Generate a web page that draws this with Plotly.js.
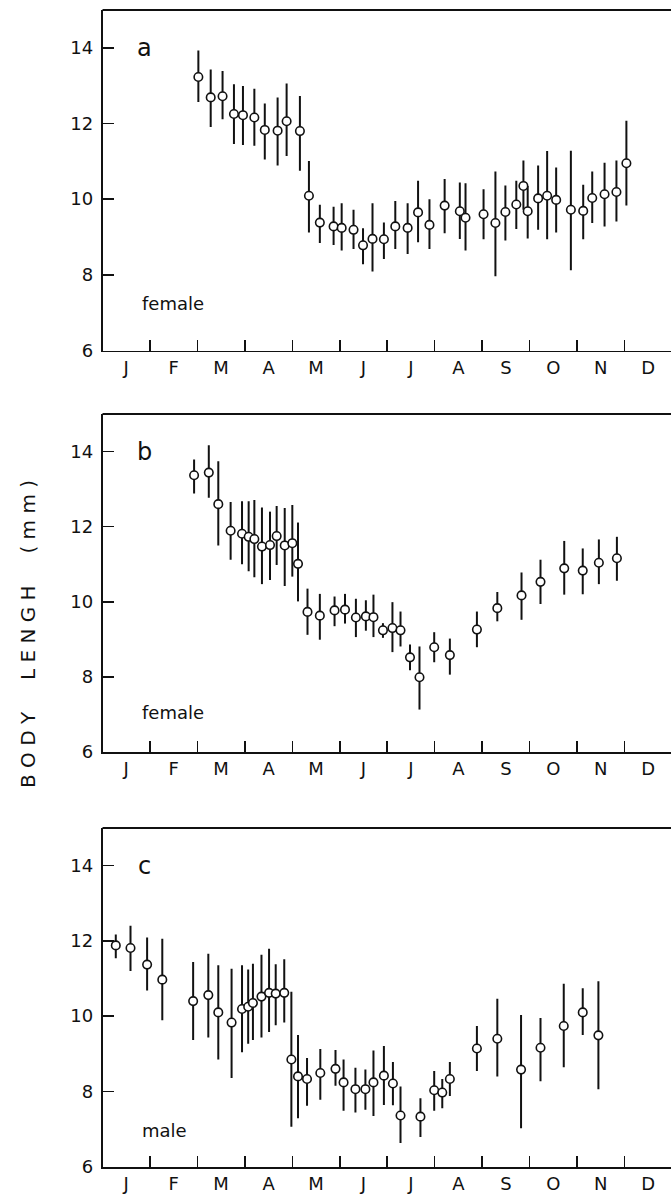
<!DOCTYPE html>
<html>
<head>
<meta charset="utf-8">
<script src="https://cdn.plot.ly/plotly-3.0.1.min.js"></script>
<style>html,body{margin:0;padding:0;background:#fff;}#chart{width:671px;height:1199px;}</style>
</head>
<body>
<div id="chart"></div>
<script>
// Month labels (x axis: months since 1 January)
const months = ['J','F','M','A','M','J','J','A','S','O','N','D'];
const monthCentres = [0.5,1.5,2.5,3.5,4.5,5.5,6.5,7.5,8.5,9.5,10.5,11.5];
const monthStarts = [1,2,3,4,5,6,7,8,9,10,11];
const yTicks = [6,8,10,12,14];

// Panel a: female
const monthA = [2.02,2.28,2.53,2.77,2.96,3.20,3.42,3.69,3.88,4.16,4.35,4.58,4.87,5.04,5.29,5.49,5.69,5.93,6.17,6.43,6.65,6.89,7.21,7.53,7.65,8.03,8.28,8.49,8.72,8.87,8.96,9.18,9.37,9.56,9.87,10.13,10.32,10.58,10.83,11.04];
const lenA = [13.23,12.69,12.72,12.25,12.22,12.16,11.83,11.81,12.06,11.80,10.09,9.38,9.28,9.24,9.19,8.78,8.95,8.94,9.28,9.24,9.65,9.32,9.83,9.68,9.51,9.60,9.37,9.66,9.86,10.35,9.68,10.02,10.09,9.98,9.72,9.69,10.03,10.13,10.19,10.95];
const hiA = [13.93,13.43,13.39,13.04,12.99,12.92,12.53,12.69,13.06,12.73,11.01,9.85,9.80,9.89,9.72,9.23,9.89,9.38,9.95,9.89,10.49,10.00,10.53,10.44,10.42,10.26,10.73,10.36,10.49,11.02,10.35,10.89,11.27,10.84,11.28,10.38,10.73,10.96,11.02,12.07];
const loA = [12.57,11.91,12.11,11.46,11.43,11.41,11.05,10.89,11.14,10.75,9.12,8.84,8.79,8.64,8.68,8.28,8.09,8.42,8.68,8.55,8.86,8.68,9.10,8.95,8.64,8.94,7.96,8.91,9.21,9.72,8.96,9.19,8.94,9.12,8.12,8.94,9.37,9.28,9.41,9.83];

// Panel b: female
const monthB = [1.93,2.24,2.44,2.70,2.94,3.08,3.20,3.36,3.53,3.67,3.84,4.00,4.12,4.32,4.58,4.89,5.11,5.34,5.55,5.71,5.91,6.11,6.28,6.48,6.68,6.99,7.32,7.89,8.32,8.83,9.23,9.73,10.12,10.46,10.84];
const lenB = [13.37,13.44,12.60,11.89,11.81,11.73,11.67,11.47,11.51,11.75,11.50,11.56,11.01,9.73,9.63,9.77,9.79,9.58,9.61,9.59,9.24,9.30,9.24,8.52,7.99,8.79,8.58,9.26,9.83,10.17,10.53,10.89,10.83,11.04,11.16];
const hiB = [13.79,14.17,13.74,12.66,12.68,12.68,12.71,12.51,12.40,12.55,12.50,12.58,12.11,10.35,10.21,10.14,10.21,10.08,10.04,10.19,9.43,9.99,9.74,8.86,8.81,9.19,9.02,9.74,10.26,10.78,11.12,11.62,11.42,11.66,11.73];
const loB = [12.88,12.77,11.50,11.12,11.00,10.81,10.65,10.47,10.58,10.98,10.42,10.67,10.01,9.12,8.99,9.35,9.42,9.06,9.23,9.06,9.04,8.66,8.81,8.18,7.13,8.39,8.06,8.79,9.48,9.52,9.94,10.19,10.20,10.47,10.56];

// Panel c: male
const monthC = [0.28,0.59,0.94,1.26,1.91,2.23,2.44,2.72,2.94,3.07,3.17,3.35,3.51,3.65,3.83,3.98,4.12,4.31,4.59,4.91,5.08,5.33,5.54,5.71,5.93,6.12,6.28,6.70,6.99,7.16,7.32,7.89,8.32,8.82,9.23,9.72,10.12,10.45];
const lenC = [11.88,11.81,11.37,10.97,10.40,10.56,10.10,9.83,10.19,10.25,10.35,10.52,10.62,10.60,10.62,8.85,8.40,8.33,8.49,8.60,8.24,8.06,8.06,8.24,8.42,8.21,7.36,7.33,8.03,7.97,8.33,9.14,9.40,8.58,9.16,9.74,10.10,9.49];
const hiC = [12.17,12.40,12.09,12.06,11.44,11.66,11.35,11.26,11.35,11.24,11.39,11.63,11.79,11.38,11.51,10.65,9.50,8.89,9.13,9.10,8.85,8.63,8.58,9.09,9.21,8.78,8.13,7.82,8.54,8.33,8.78,9.74,10.46,10.03,9.95,10.86,10.74,10.93];
const loC = [11.54,11.20,10.68,9.89,9.37,9.43,8.85,8.36,9.04,9.27,9.37,9.43,9.58,9.76,9.83,7.06,7.29,7.62,7.78,8.15,7.49,7.44,7.51,7.35,7.64,7.63,6.63,6.79,7.49,7.55,7.88,8.54,8.40,7.02,8.27,8.64,9.50,8.06];

const panelLetters = ['a','b','c'];
const panelSex = ['female','female','male'];
const yTitleWords = ['BODY','LENGH','(mm)'];

const FONT = 'DejaVu Sans, Liberation Sans, sans-serif';
const INK = '#111';

function series(xs, ys, hi, lo, xa, ya) {
  return {
    type: 'scatter', mode: 'markers', x: xs, y: ys, xaxis: xa, yaxis: ya,
    marker: {symbol: 'circle', size: 8.5, color: '#fff', line: {color: INK, width: 1.6}},
    error_y: {type: 'data', symmetric: false,
      array: hi.map((h, i) => h - ys[i]),
      arrayminus: lo.map((l, i) => ys[i] - l),
      color: INK, thickness: 2, width: 0},
    hoverinfo: 'skip', cliponaxis: false, showlegend: false
  };
}

const data = [
  series(monthA, lenA, hiA, loA, 'x', 'y'),
  series(monthB, lenB, hiB, loB, 'x2', 'y2'),
  series(monthC, lenC, hiC, loC, 'x3', 'y3')
];

const H = 1199, W = 671;
const xDom = [102.5 / W, 1];
const yDoms = [[1 - 350.5 / H, 1 - 10 / H], [1 - 752 / H, 1 - 414 / H], [1 - 1166.7 / H, 1 - 828 / H]];

function xAxis(anchor) {
  return {
    domain: xDom, anchor: anchor, range: [0, 11.98],
    tickmode: 'array', tickvals: monthCentres, ticktext: months, ticks: '',
    minor: {tickmode: 'array', tickvals: monthStarts, ticks: 'inside', ticklen: 11, tickwidth: 1.6, tickcolor: INK},
    showline: true, linecolor: INK, linewidth: 1.8, showgrid: false, zeroline: false,
    tickfont: {family: FONT, size: 18, color: INK}, ticklabelstandoff: 0, fixedrange: true
  };
}
function yAxis(anchor, dom) {
  return {
    domain: dom, anchor: anchor, range: [6, 15],
    tickmode: 'array', tickvals: yTicks, ticks: 'inside', ticklen: 11, tickwidth: 1.6, tickcolor: INK,
    showline: true, linecolor: INK, linewidth: 1.8, showgrid: false, zeroline: false,
    tickfont: {family: FONT, size: 18, color: INK}, ticklabelstandoff: 4, fixedrange: true
  };
}

const layout = {
  width: W, height: H, margin: {l: 0, r: 0, t: 0, b: 0},
  paper_bgcolor: '#fff', plot_bgcolor: '#fff', showlegend: false,
  xaxis: xAxis('y'), yaxis: yAxis('x', yDoms[0]),
  xaxis2: xAxis('y2'), yaxis2: yAxis('x2', yDoms[1]),
  xaxis3: xAxis('y3'), yaxis3: yAxis('x3', yDoms[2]),
  shapes: ['', '2', '3'].map(s => ({type: 'line', xref: 'x' + s + ' domain', yref: 'y' + s + ' domain',
    x0: 0, x1: 1, y0: 1, y1: 1, line: {color: INK, width: 1.8}})),
  annotations: []
};

const sexY = [7.25, 7.05, 6.95];
['', '2', '3'].forEach((s, i) => {
  layout.annotations.push({xref: 'x' + s, yref: 'y' + s, x: 0.88, y: 14, text: panelLetters[i],
    showarrow: false, xanchor: 'center', yanchor: 'middle', font: {family: FONT, size: 24, color: INK}});
  layout.annotations.push({xref: 'x' + s, yref: 'y' + s, x: 0.78, y: sexY[i], text: panelSex[i],
    showarrow: false, xanchor: 'left', yanchor: 'middle', font: {family: FONT, size: 18, color: INK}});
});
// Letter-spaced axis title
const spacedTitle = yTitleWords.map(w => w.split('').join('\u00A0')).join('\u00A0\u00A0\u00A0\u00A0\u00A0');
layout.annotations.push({xref: 'paper', yref: 'paper', x: 28 / W, y: 1 - 634 / H,
  text: spacedTitle, textangle: -90, showarrow: false, xanchor: 'center', yanchor: 'middle',
  font: {family: FONT, size: 20, color: INK}});

Plotly.newPlot('chart', data, layout, {staticPlot: true, displayModeBar: false});
</script>
</body>
</html>
